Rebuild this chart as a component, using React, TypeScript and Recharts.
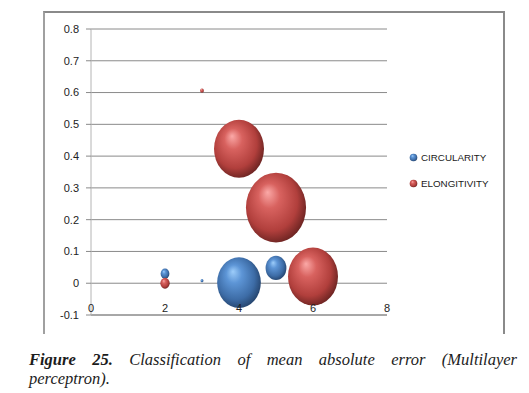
import { ScatterChart, Scatter, XAxis, YAxis, ZAxis, CartesianGrid, Legend } from "recharts"

// values
const circularityX = [2, 3, 4, 5]
const circularityY = [0.03, 0.008, 0.002, 0.048]
const circularitySize = [0.22, 0.023, 5.5, 1.25]

const elongitivityX = [2, 3, 4, 5, 6]
const elongitivityY = [0.0, 0.606, 0.423, 0.238, 0.021]
const elongitivitySize = [0.25, 0.04, 7.2, 10.4, 7.2]

const xTicks = [0, 2, 4, 6, 8]
const yTicks = [-0.1, 0, 0.1, 0.2, 0.3, 0.4, 0.5, 0.6, 0.7, 0.8]

const circularity = circularityX.map((x, i) => ({ x, y: circularityY[i], z: circularitySize[i] }))
const elongitivity = elongitivityX.map((x, i) => ({ x, y: elongitivityY[i], z: elongitivitySize[i] }))

const series = [
  { name: "CIRCULARITY", data: circularity, fill: "url(#sphereBlue)" },
  { name: "ELONGITIVITY", data: elongitivity, fill: "url(#sphereRed)" },
]

const font = "'Liberation Sans', Arial, sans-serif"

// excel draws the bubbles a bit taller than wide
const Bubble = (props: any) => {
  const { cx, cy, size, width, fill } = props
  const r = size != null ? Math.sqrt(size / Math.PI) : width / 2
  if (cx == null || cy == null) return null
  return <ellipse cx={cx} cy={cy} rx={r * 0.93} ry={r * 1.08} fill={fill} />
}

const XTick = (props: any) => {
  const { x, y, payload } = props
  return (
    <text x={x} y={y - 3} textAnchor="middle" fontSize={11} fontFamily={font} fill="#222">
      {payload.value}
    </text>
  )
}

const LegendBox = () => (
  <div style={{ fontFamily: font, fontSize: 9.8, color: "#1a1a1a" }}>
    {series.map((s) => (
      <div key={s.name} style={{ display: "flex", alignItems: "center", height: 26 }}>
        <svg width={9} height={9} style={{ marginRight: 3 }}>
          <circle cx={4.5} cy={4.5} r={3.8} fill={s.fill} />
        </svg>
        <span>{s.name}</span>
      </div>
    ))}
  </div>
)

export default function App() {
  return (
    <div style={{ position: "absolute", left: 0, top: 0, width: 529, height: 393, background: "#fff" }}>
      <div
        style={{
          position: "absolute",
          left: 43,
          top: 11,
          width: 458,
          height: 321,
          borderTop: "2px solid #8a8a8a",
          borderLeft: "2px solid #a0a0a0",
          borderRight: "2px solid #8a8a8a",
        }}
      >
        <ScatterChart
          width={458}
          height={318}
          margin={{ top: 16, right: 116, bottom: 15, left: 6 }}
          style={{ fontFamily: font }}
        >
          <defs>
            <radialGradient id="sphereRed" cx="45%" cy="45%" r="60%" fx="36%" fy="28%">
              <stop offset="0%" stopColor="#fba9a7" />
              <stop offset="30%" stopColor="#d8625f" />
              <stop offset="72%" stopColor="#b13f3c" />
              <stop offset="100%" stopColor="#62201e" />
            </radialGradient>
            <radialGradient id="sphereBlue" cx="45%" cy="45%" r="60%" fx="36%" fy="28%">
              <stop offset="0%" stopColor="#9dcdfa" />
              <stop offset="30%" stopColor="#5d95d6" />
              <stop offset="72%" stopColor="#3d6ca6" />
              <stop offset="100%" stopColor="#223f66" />
            </radialGradient>
          </defs>
          <CartesianGrid horizontal vertical={false} stroke="#8a8a8a" />
          <XAxis
            type="number"
            dataKey="x"
            domain={[0, 8]}
            ticks={xTicks}
            tickLine={false}
            tickSize={0}
            tickMargin={0}
            height={1}
            axisLine={{ stroke: "#8a8a8a" }}
            tick={<XTick />}
            interval={0}
          />
          <YAxis
            type="number"
            dataKey="y"
            domain={[-0.1, 0.8]}
            ticks={yTicks}
            width={40}
            tickSize={5}
            tickMargin={7}
            axisLine={{ stroke: "#b4b4b4" }}
            tickLine={{ stroke: "#8a8a8a" }}
            tick={{ fontSize: 11, fill: "#222", fontFamily: font }}
            interval={0}
          />
          <ZAxis type="number" dataKey="z" domain={[0, 10.4]} range={[0, 3278]} />
          <Legend
            layout="vertical"
            align="center"
            verticalAlign="middle"
            wrapperStyle={{ left: 364, top: 131, width: 100 }}
            content={<LegendBox />}
          />
          {series.map((s) => (
            <Scatter
              key={s.name}
              name={s.name}
              data={s.data}
              fill={s.fill}
              shape={<Bubble />}
              isAnimationActive={false}
            />
          ))}
        </ScatterChart>
      </div>
      <div
        style={{
          position: "absolute",
          left: 29,
          top: 350,
          width: 488,
          fontFamily: "'Liberation Serif', 'Times New Roman', serif",
          fontStyle: "italic",
          fontSize: 16.5,
          lineHeight: "19px",
          color: "#1c1c1c",
        }}
      >
        <div style={{ textAlign: "justify", textAlignLast: "justify", whiteSpace: "nowrap" as any }}>
          <b>Figure 25.</b> Classification of mean absolute error (Multilayer
        </div>
        <div>perceptron).</div>
      </div>
    </div>
  )
}
